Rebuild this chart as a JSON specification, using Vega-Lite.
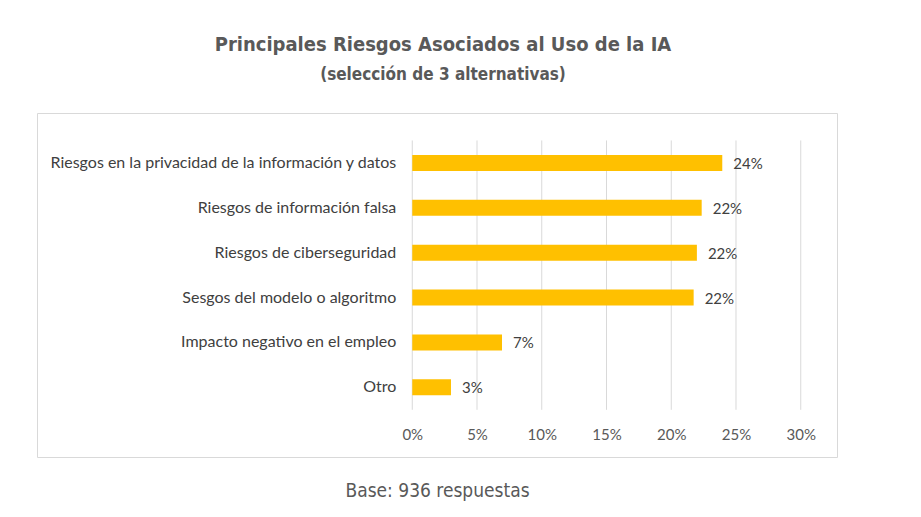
{
  "$schema": "https://vega.github.io/schema/vega-lite/v6.json",
  "width": 800,
  "height": 344,
  "autosize": "none",
  "padding": {"left": 37, "top": 113, "right": 84, "bottom": 60},
  "background": "white",
  "config": {
    "view": {"stroke": "#d9d9d9", "strokeWidth": 1},
    "font": "Lato"
  },
  "title": {
    "text": "Principales Riesgos Asociados al Uso de la IA",
    "subtitle": "(selección de 3 alternativas)",
    "font": "DejaVu Sans Condensed",
    "subtitleFont": "DejaVu Sans Condensed",
    "fontSize": 20,
    "subtitleFontSize": 17,
    "fontWeight": "bold",
    "subtitleFontWeight": "bold",
    "color": "#595959",
    "subtitleColor": "#595959",
    "anchor": "middle",
    "frame": "group",
    "dx": 6,
    "offset": 30,
    "subtitlePadding": 12
  },
  "datasets": {
    "riesgos": [
      {"rank": 1, "riesgo": "Riesgos en la privacidad de la información y datos", "valor": 0.2394},
      {"rank": 2, "riesgo": "Riesgos de información falsa", "valor": 0.2235},
      {"rank": 3, "riesgo": "Riesgos de ciberseguridad", "valor": 0.2198},
      {"rank": 4, "riesgo": "Sesgos del modelo o algoritmo", "valor": 0.2173},
      {"rank": 5, "riesgo": "Impacto negativo en el empleo", "valor": 0.0693},
      {"rank": 6, "riesgo": "Otro", "valor": 0.0299}
    ],
    "ticks": [
      {"t": 0}, {"t": 0.05}, {"t": 0.1}, {"t": 0.15}, {"t": 0.2}, {"t": 0.25}, {"t": 0.3}
    ]
  },
  "layer": [
    {
      "data": {"name": "ticks"},
      "mark": {"type": "rule", "color": "#d9d9d9", "strokeWidth": 1},
      "encoding": {
        "x": {
          "field": "t",
          "type": "quantitative",
          "scale": {"domain": [-0.2898, 0.328], "zero": false, "nice": false},
          "axis": {
            "values": [0, 0.05, 0.1, 0.15, 0.2, 0.25, 0.3],
            "format": ".0%",
            "grid": false,
            "domain": false,
            "ticks": false,
            "offset": -44,
            "labelPadding": 14,
            "labelFontSize": 15,
            "labelColor": "#595959",
            "labelFont": "Lato",
            "title": "Base: 936 respuestas",
            "titleFont": "DejaVu Sans Condensed",
            "titleFontSize": 19,
            "titleFontWeight": "normal",
            "titleColor": "#595959",
            "titlePadding": 39
          }
        },
        "y": {
          "datum": 0.5,
          "type": "quantitative",
          "scale": {"domain": [0.0, 7.44], "reverse": true, "zero": false, "nice": false},
          "axis": null
        },
        "y2": {"datum": 6.5}
      }
    },
    {
      "data": {"name": "riesgos"},
      "mark": {"type": "bar", "orient": "horizontal", "size": 16, "color": "#FFC000"},
      "encoding": {
        "x": {"field": "valor", "type": "quantitative"},
        "x2": {"datum": 0},
        "y": {"field": "rank", "type": "quantitative"}
      }
    },
    {
      "data": {"name": "riesgos"},
      "mark": {"type": "text", "align": "left", "baseline": "middle", "dx": 11, "dy": 1, "fontSize": 15, "color": "#404040"},
      "encoding": {
        "x": {"field": "valor", "type": "quantitative"},
        "y": {"field": "rank", "type": "quantitative"},
        "text": {"field": "valor", "type": "quantitative", "format": ".0%"}
      }
    },
    {
      "data": {"name": "riesgos"},
      "mark": {"type": "text", "align": "right", "baseline": "middle", "dx": -16, "fontSize": 16, "color": "#404040"},
      "encoding": {
        "x": {"datum": 0, "type": "quantitative"},
        "y": {"field": "rank", "type": "quantitative"},
        "text": {"field": "riesgo", "type": "nominal"}
      }
    }
  ]
}
